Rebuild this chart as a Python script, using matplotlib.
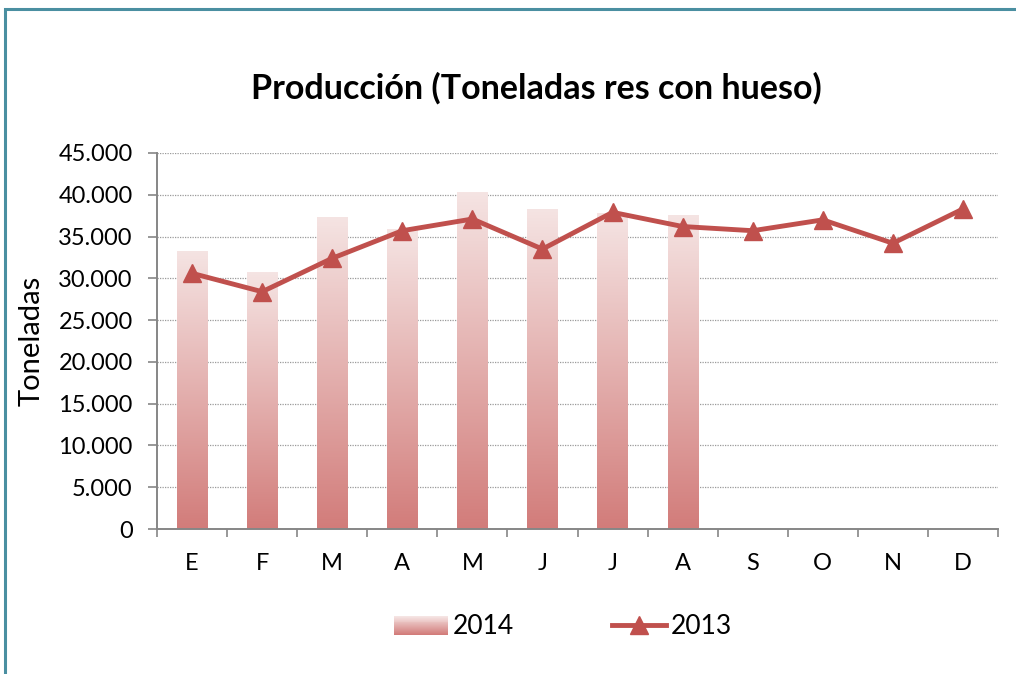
import numpy as np
import matplotlib.pyplot as plt
from matplotlib.patches import Rectangle
from matplotlib.legend_handler import HandlerBase
from matplotlib.lines import Line2D
from matplotlib.colors import LinearSegmentedColormap

# -------------------------------------------------------------------
# data
# -------------------------------------------------------------------
months = ["E", "F", "M", "A", "M", "J", "J", "A", "S", "O", "N", "D"]
prod_2014 = [33300, 30700, 37400, 35900, 40300, 38300, 37800, 37600]
prod_2013 = [30600, 28400, 32400, 35700, 37100, 33500, 37900, 36200,
             35700, 37000, 34200, 38300]
yticks = np.arange(0, 45001, 5000)

plt.rcParams['font.family'] = ['Lato', 'DejaVu Sans']

line_color = '#c0504d'
bar_top = '#f5e4e3'
bar_bottom = '#d27c7a'
grad_cmap = LinearSegmentedColormap.from_list('bars', [bar_bottom, bar_top])

fig = plt.figure(figsize=(10.16, 6.74), dpi=100)
ax = fig.add_axes([157 / 1016, 1 - 529 / 674, (998 - 157) / 1016, (529 - 153) / 674])

x = np.arange(len(months))
bar_w = 0.43
bars = ax.bar(x[:len(prod_2014)], prod_2014, width=bar_w, color='none', zorder=2)
grad = np.linspace(0, 1, 256).reshape(-1, 1)
for b in bars:
    x0, y0 = b.get_x(), b.get_y()
    w, h = b.get_width(), b.get_height()
    im = ax.imshow(grad, cmap=grad_cmap, origin='lower', aspect='auto',
                   extent=[x0, x0 + w, y0, y0 + h], zorder=2)
    im.set_clip_path(b)

ax.plot(x, prod_2013, color=line_color, linewidth=3.5, marker='^',
        markersize=12.5, zorder=3)

ax.set_xlim(-0.5, len(months) - 0.5)
ax.set_ylim(0, 45000)
ax.set_yticks(yticks)
ax.set_yticklabels([f"{v:,}".replace(",", ".") for v in yticks])
ax.set_xticks(x)
ax.set_xticklabels(months)
ax.set_xticks(np.arange(-0.5, len(months)), minor=True)
ax.tick_params(axis='x', which='major', length=0, pad=17, labelsize=17)
ax.tick_params(axis='x', which='minor', length=5.5, color='#868686', width=1.2)
ax.tick_params(axis='y', length=6.5, color='#868686', width=1.2, labelsize=17, pad=11)
ax.yaxis.grid(True, linestyle=(0, (1, 1)), color='#9a9a9a', linewidth=0.9)
ax.set_axisbelow(True)
for s in ['top', 'right']:
    ax.spines[s].set_visible(False)
for s in ['left', 'bottom']:
    ax.spines[s].set_color('#868686')
    ax.spines[s].set_linewidth(1.4)

ax.set_ylabel('Toneladas', fontsize=21, labelpad=10)
fig.text(0.528, 1 - 88 / 674, 'Producción (Toneladas res con hueso)',
         ha='center', va='center', fontsize=24.5, fontweight='bold')


class GradientHandler(HandlerBase):
    def create_artists(self, legend, orig_handle, xdescent, ydescent,
                       width, height, fontsize, trans):
        n = 20
        arts = []
        for i in range(n):
            arts.append(Rectangle((-xdescent, -ydescent + height * i / n), width,
                                  height / n + 0.3, color=grad_cmap(i / (n - 1)),
                                  linewidth=0, transform=trans))
        return arts


bar_handle = Rectangle((0, 0), 1, 1)
line_handle = Line2D([], [], color=line_color, linewidth=3.5, marker='^', markersize=12.5)
fig.legend([bar_handle, line_handle], ['2014', '2013'],
           handler_map={Rectangle: GradientHandler()},
           loc='center', bbox_to_anchor=(563 / 1016, 1 - 627 / 674), ncol=2,
           frameon=False, fontsize=19, handlelength=2.05, handleheight=0.7,
           columnspacing=3.7, handletextpad=0.18)

fig.patches.append(Rectangle((5 / 1016, -0.05), 1.1, 1 - 9 / 674 + 0.05,
                             transform=fig.transFigure, fill=False,
                             edgecolor='#4a8fa1', linewidth=2.2))

fig.savefig('out.png', dpi=100)
